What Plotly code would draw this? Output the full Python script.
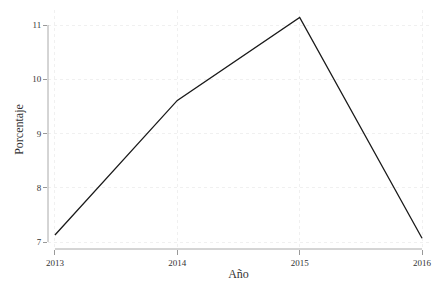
import plotly.graph_objects as go

years = [2013, 2014, 2015, 2016]
porcentaje = [7.13, 9.61, 11.14, 7.07]
y_ticks = [7, 8, 9, 10, 11]
x_title = "Año"
y_title = "Porcentaje"

W, H = 442, 295
ml, mr, mt, mb = 48, 10, 10, 46
# pixel targets: 2013 -> 55, 2016 -> 425 ; 7 -> 242, 11 -> 25
xs = (425 - 55) / 3.0
x0 = 2013 - (55 - ml) / xs
x1 = 2016 + (W - mr - 425) / xs
ys = (242 - 25) / 4.0
y0 = 7 - ((H - mb) - 242) / ys
y1 = 11 + (25 - mt) / ys

font_fam = "Liberation Serif, DejaVu Serif, serif"
grid_col = "#f0f0f0"

fig = go.Figure()
fig.add_trace(go.Scatter(x=years, y=porcentaje, mode="lines",
                         line=dict(color="#1a1a1a", width=1.3),
                         showlegend=False))

fig.update_layout(
    width=W, height=H,
    margin=dict(l=ml, r=mr, t=mt, b=mb),
    paper_bgcolor="white", plot_bgcolor="white",
    font=dict(family=font_fam, color="#333333"),
    xaxis=dict(range=[x0, x1], tickvals=years, ticks="outside", ticklen=5,
               tickcolor="#999999", showline=False, zeroline=False,
               showgrid=True, gridcolor=grid_col, griddash="dot", gridwidth=1,
               tickfont=dict(size=9, color="#333333"),
               title=dict(text=x_title, font=dict(size=12, color="#333333"), standoff=2)),
    yaxis=dict(range=[y0, y1], tickvals=y_ticks, ticks="outside", ticklen=4,
               tickcolor="#999999", showline=False, zeroline=False,
               showgrid=True, gridcolor=grid_col, griddash="dot", gridwidth=1,
               tickfont=dict(size=9, color="#333333"),
               title=dict(text=y_title, font=dict(size=12, color="#333333"), standoff=6)),
    shapes=[
        dict(type="line", xref="paper", yref="y", x0=0, x1=0, y0=min(y_ticks), y1=max(y_ticks),
             line=dict(color="#aaaaaa", width=1)),
        dict(type="line", xref="x", yref="paper", x0=min(years), x1=max(years), y0=0, y1=0,
             line=dict(color="#aaaaaa", width=1)),
    ],
)

fig.write_html("out.html")
